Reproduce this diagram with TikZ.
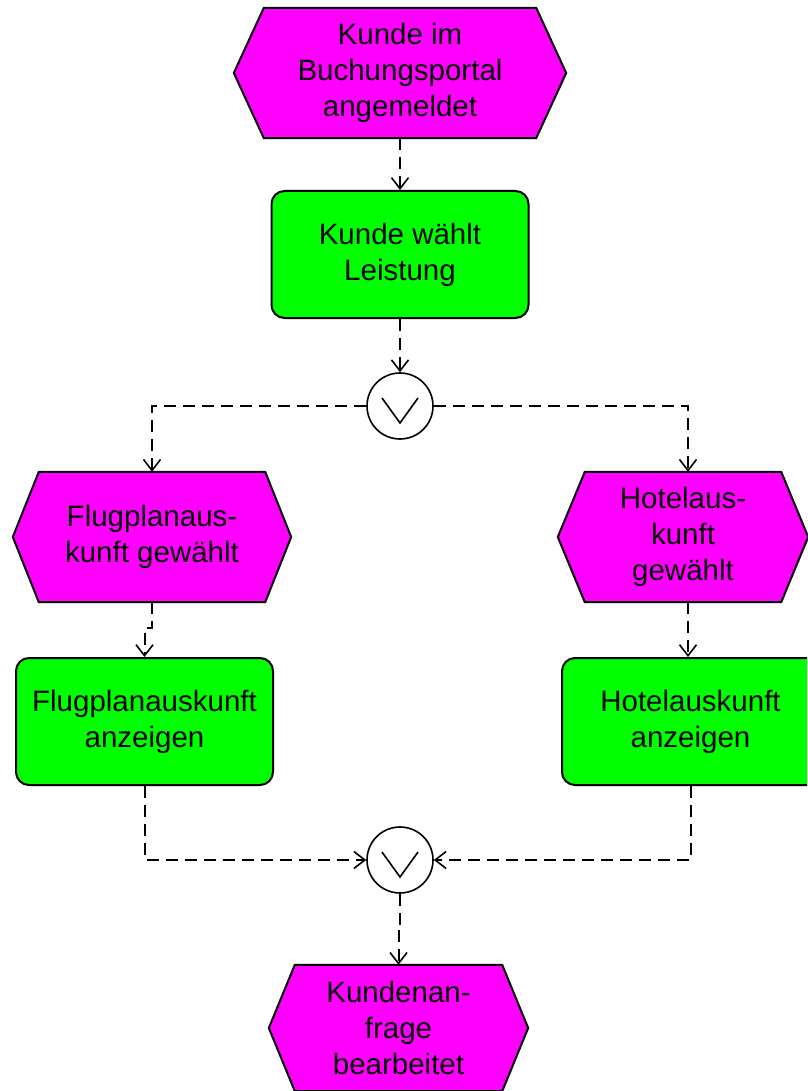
\documentclass[tikz,border=0pt]{standalone}
\usepackage{fontspec}
\setmainfont{Liberation Sans}
\usetikzlibrary{arrows.meta,calc}
\pgfdeclarelayer{bg}
\pgfsetlayers{bg,main}
\definecolor{evfill}{RGB}{255,0,255}
\definecolor{fnfill}{RGB}{0,255,0}
\newcommand\hexev[2]{\draw[evshape] (#1.west) -- ([xshift=#2]#1.north west) -- ([xshift=-#2]#1.north east) -- (#1.east) -- ([xshift=-#2]#1.south east) -- ([xshift=#2]#1.south west) -- cycle;}
\newcommand\orsym[1]{\draw[line width=1.6pt] ([shift={(-18,-8)}]#1.center) -- ([shift={(0,17)}]#1.center) -- ([shift={(18,-8)}]#1.center);}
\begin{document}
\begin{tikzpicture}[x=1pt,y=-1pt,
 txt/.style={font=\fontsize{29.5}{36}\selectfont, align=center, inner sep=0pt, text=black},
 evbox/.style={txt, minimum height=130pt},
 fnbox/.style={txt, draw=black, line width=2pt, fill=fnfill, rounded corners=13pt, minimum width=257pt, minimum height=127pt},
 evshape/.style={draw=black, line width=2pt, fill=evfill, line join=miter},
 conn/.style={draw=black, circle, line width=1.6pt, fill=white, minimum size=66pt, inner sep=0pt},
 flow/.style={line width=2pt, dash pattern=on 12pt off 7pt, -{Straight Barb[length=11pt,width=17pt,line width=1.6pt]}}]
\useasboundingbox (0,0) rectangle (807,1091);
\clip (0,0) rectangle (807,1091);

\node[evbox, minimum width=332pt] (e1) at (400,73) {Kunde im\\Buchungsportal\\angemeldet};
\node[fnbox] (f1) at (400,254.5) {Kunde wählt\\Leistung};
\node[conn] (c1) at (400,406) {};
\node[evbox, minimum width=278pt] (e2) at (152,537) {Flugplanaus-\\kunft gewählt};
\node[evbox, minimum width=250pt] (e3) at (683,537) {Hotelaus-\\kunft\\gewählt};
\node[fnbox] (f2) at (144.5,721.5) {Flugplanauskunft\\anzeigen};
\node[fnbox] (f3) at (690.5,721.5) {Hotelauskunft\\anzeigen};
\node[conn] (c2) at (400,860) {};
\node[evbox, minimum width=259pt, minimum height=126pt] (e4) at (398.5,1028) {Kundenan-\\frage\\bearbeitet};

\begin{pgfonlayer}{bg}
\hexev{e1}{30pt}
\hexev{e2}{26pt}
\hexev{e3}{27pt}
\hexev{e4}{26pt}
\end{pgfonlayer}

\orsym{c1}
\orsym{c2}

\draw[flow] (e1.south) -- (f1.north);
\draw[flow] (f1.south) -- (c1.north);
\draw[flow] (c1.west) -| (e2.north);
\draw[flow] (c1.east) -| ([xshift=5pt]e3.north);
\draw[flow] (e2.south) -- ++(0,26) -| (f2.north);
\draw[flow] ([xshift=5pt]e3.south) -- ([xshift=5pt]e3.south |- f3.north);
\draw[flow] (f2.south) |- (c2.west);
\draw[flow] (f3.south) |- (c2.east);
\draw[flow] (c2.south) -- ++(0,36) -| (e4.north);
\end{tikzpicture}
\end{document}
